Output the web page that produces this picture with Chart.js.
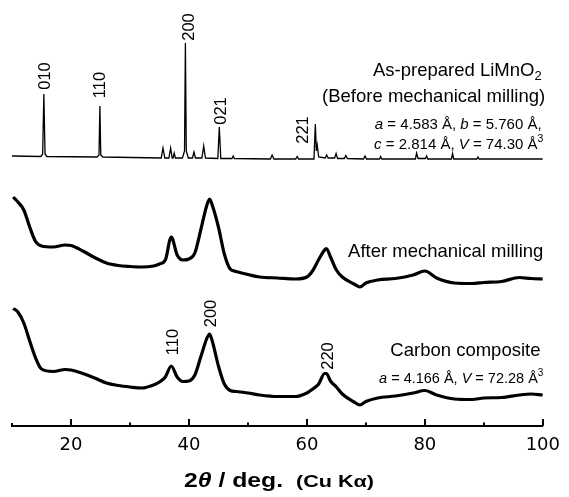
<!DOCTYPE html>
<html>
<head>
<meta charset="utf-8">
<script src="https://cdn.jsdelivr.net/npm/chart.js@4.4.1/dist/chart.umd.min.js"></script>
<style>
html, body { margin: 0; padding: 0; background: #fff; }
canvas { display: block; }
</style>
</head>
<body>
<canvas id="xrd" width="569" height="497"></canvas>
<script>
// As-prepared LiMnO2 (sharp pattern), 2theta / intensity in arb. units
const topTheta = [10, 14.9, 15.2, 15.4, 15.6, 15.9, 24.4, 24.75, 24.9, 25.05, 25.4,
    35.3, 35.6, 35.9, 36.6, 36.9, 37.15, 37.3, 37.5, 37.7,
    38.9, 39.25, 39.4, 39.55, 39.9, 40.6, 40.85, 41.1, 42.2, 42.5, 42.8,
    44.9, 45.15, 45.4, 47.3, 47.5, 47.7, 53.8, 54.1, 54.4, 58.1, 58.35, 58.6,
    61.2, 61.43, 61.6, 61.75, 62.0, 63.1, 63.35, 63.6, 64.7, 64.95, 65.2,
    66.35, 66.6, 66.85, 69.6, 69.85, 70.1, 72.3, 72.5, 72.7, 78.4, 78.6, 78.85,
    80.1, 80.3, 80.5, 84.5, 84.7, 84.9, 88.8, 89.0, 89.2, 100];
const topInt = [3, 2.5, 5, 65, 5, 2.5, 2, 4, 53, 4, 2,
    1, 11, 1, 1, 11, 1, 1, 6, 1,
    1, 8, 116, 8, 1, 1, 7, 1, 1, 13, 1,
    0.5, 32, 0.5, 0.5, 3, 0.5, 0, 4, 0, 0, 2.5, 0,
    0, 35, 8, 14, 2, 1, 4, 1, 1, 5.5, 0.5,
    0.5, 3.5, 0.5, 0, 3, 0, 0, 2.5, 0, 0, 6, 0.5,
    0.5, 3, 0, 0, 5.5, 0, 0, 2, 0, 0];

// milled samples (broad pattern), shared 2theta grid
const broadTheta = [10.2, 11, 12, 13, 14, 15, 17, 19, 20, 22, 24, 26, 28, 30, 32, 34,
    35, 36, 37, 38, 39, 40, 41, 42, 43, 43.5, 44, 45, 46, 47, 48, 50, 52, 55, 58, 60,
    61, 62, 63, 63.3, 64, 65, 66, 68, 69, 70, 72, 75, 78, 80, 82, 85, 88, 90, 93, 96, 98, 100];
const milledInt = [93, 88, 80, 63, 48.5, 44, 43, 45, 44.5, 39, 32.5, 27, 24.5, 23.5, 23, 24,
    26, 30, 53, 35, 30, 31, 37, 60, 84, 91, 84, 63, 36, 21, 18.5, 15.5, 13, 12, 11, 13,
    19.5, 30.5, 40, 41.5, 33, 20, 13, 6, 3, 7, 10, 11.5, 15, 19, 12, 7, 6.5, 7.5, 8.5, 12.5, 11.5, 11];
const compositeInt = [101.5, 98, 87, 69, 52, 41, 38.5, 40.5, 40, 36.5, 32, 27, 24.5, 23, 22, 25,
    28, 33, 44, 33, 28.5, 29, 35, 53, 71, 76, 68, 44, 26, 19.5, 18.5, 17, 15, 13.5, 13.5, 17,
    21, 26, 36.5, 36.5, 29, 23, 16, 8, 5, 8.5, 12, 14, 17, 19.5, 15, 11, 10.5, 12, 12.5, 15, 16, 15];

// vertical offsets of the stacked patterns
const offsetTop = 267;
const offsetMilled = 136;
const offsetComposite = 16;

const xTickLabels = [20, 40, 60, 80, 100];

// hkl labels: text, 2theta, height
const hklLabels = [
    ['010', 15.75, 350], ['110', 25.07, 341], ['200', 40.1, 399],
    ['021', 45.54, 315], ['221', 59.42, 296],
    ['110', 37.34, 84], ['200', 43.78, 112.5], ['220', 63.6, 70]
];

const FONT = '"Liberation Sans", Arial, sans-serif';

// right-aligned notes: right edge (2theta), baseline, [text, size, dy, style]
const notes = [
    [99.8, 350, [['As-prepared LiMnO', 18.5], ['2', 13, 4]]],
    [100.4, 324.3, [['(Before mechanical milling)', 18.5]]],
    [99.8, 296.7, [['a', 15, 0, 'italic'], [' = 4.583 Å, ', 15], ['b', 15, 0, 'italic'], [' = 5.760 Å,', 15]]],
    [100.1, 277, [['c', 15, 0, 'italic'], [' = 2.814 Å, ', 15], ['V', 15, 0, 'italic'], [' = 74.30 Å', 15], ['3', 10.5, -7]]],
    [100.1, 169.3, [['After mechanical milling', 18.5]]],
    [99.6, 70, [['Carbon composite', 18.5]]],
    [100.1, 43.3, [['a', 14.5, 0, 'italic'], [' = 4.166 Å, ', 14.5], ['V', 14.5, 0, 'italic'], [' = 72.28 Å', 14.5], ['3', 10, -7]]]
];

function toPoints(xs, ys, off) {
    return xs.map(function (x, i) { return {x: x, y: ys[i] + off}; });
}

function drawParts(ctx, parts, x, y) {
    parts.forEach(function (p) {
        ctx.font = (p[3] || '') + ' ' + p[1] + 'px ' + FONT;
        ctx.fillText(p[0], x, y + (p[2] || 0));
        x += ctx.measureText(p[0]).width;
    });
}

function partsWidth(ctx, parts) {
    let w = 0;
    parts.forEach(function (p) {
        ctx.font = (p[3] || '') + ' ' + p[1] + 'px ' + FONT;
        w += ctx.measureText(p[0]).width;
    });
    return w;
}

const decor = {
    id: 'decor',
    afterDraw: function (chart) {
        const ctx = chart.ctx, xs = chart.scales.x, ys = chart.scales.y;
        const axisY = chart.chartArea.bottom;
        ctx.save();
        ctx.fillStyle = '#000';
        ctx.strokeStyle = '#000';

        // inward tick marks
        ctx.lineWidth = 2;
        xs.ticks.forEach(function (t) {
            const px = Math.round(xs.getPixelForValue(t.value));
            const len = t.value === 10 ? 3 : (t.value % 20 === 0 ? 7 : 3.5);
            ctx.beginPath();
            ctx.moveTo(px, axisY);
            ctx.lineTo(px, axisY - len);
            ctx.stroke();
        });

        // hkl labels
        ctx.font = '16.5px ' + FONT;
        ctx.textAlign = 'center';
        ctx.textBaseline = 'middle';
        hklLabels.forEach(function (h) {
            ctx.save();
            ctx.translate(xs.getPixelForValue(h[1]), ys.getPixelForValue(h[2]));
            ctx.rotate(-Math.PI / 2);
            ctx.fillText(h[0], 0, 0);
            ctx.restore();
        });

        // sample notes
        ctx.textAlign = 'left';
        ctx.textBaseline = 'alphabetic';
        notes.forEach(function (n) {
            const w = partsWidth(ctx, n[2]);
            drawParts(ctx, n[2], xs.getPixelForValue(n[0]) - w, ys.getPixelForValue(n[1]));
        });

        // axis title, wide bold lettering
        const t1 = [['2', 20.5, 0, 'bold'], ['θ', 20.5, 0, 'italic bold'], [' / deg.', 20.5, 0, 'bold']];
        const t2 = [['(Cu Kα)', 16, 0, 'bold']];
        [[t1, 184, 99, 487], [t2, 296, 78, 487]].forEach(function (t) {
            const w = partsWidth(ctx, t[0]);
            ctx.save();
            ctx.translate(t[1], t[3]);
            ctx.scale(t[2] / w, 1);
            drawParts(ctx, t[0], 0, 0);
            ctx.restore();
        });
        ctx.restore();
    }
};

new Chart(document.getElementById('xrd'), {
    type: 'line',
    data: {
        datasets: [{
            data: toPoints(topTheta, topInt, offsetTop),
            borderColor: '#000',
            borderWidth: 1.3,
            pointRadius: 0,
            tension: 0
        }, {
            data: toPoints(broadTheta, milledInt, offsetMilled),
            borderColor: '#000',
            borderWidth: 3.2,
            pointRadius: 0,
            cubicInterpolationMode: 'monotone'
        }, {
            data: toPoints(broadTheta, compositeInt, offsetComposite),
            borderColor: '#000',
            borderWidth: 3.2,
            pointRadius: 0,
            cubicInterpolationMode: 'monotone'
        }]
    },
    options: {
        responsive: false,
        animation: false,
        layout: { padding: { left: 12, right: 19.5, top: 5, bottom: 0 } },
        plugins: { legend: { display: false }, tooltip: { enabled: false } },
        scales: {
            x: {
                type: 'linear',
                min: 10,
                max: 100,
                grid: { display: false, drawTicks: false },
                border: { display: true, color: '#000', width: 2 },
                ticks: {
                    stepSize: 10,
                    autoSkip: false,
                    maxRotation: 0,
                    padding: 9,
                    color: '#000',
                    font: { family: '"DejaVu Sans", sans-serif', size: 18 },
                    callback: function (v) { return xTickLabels.indexOf(v) >= 0 ? String(v) : ''; }
                },
                afterFit: function (scale) { scale.height = 71; }
            },
            y: { display: false, min: 0, max: 421 }
        }
    },
    plugins: [decor]
});
</script>
</body>
</html>
